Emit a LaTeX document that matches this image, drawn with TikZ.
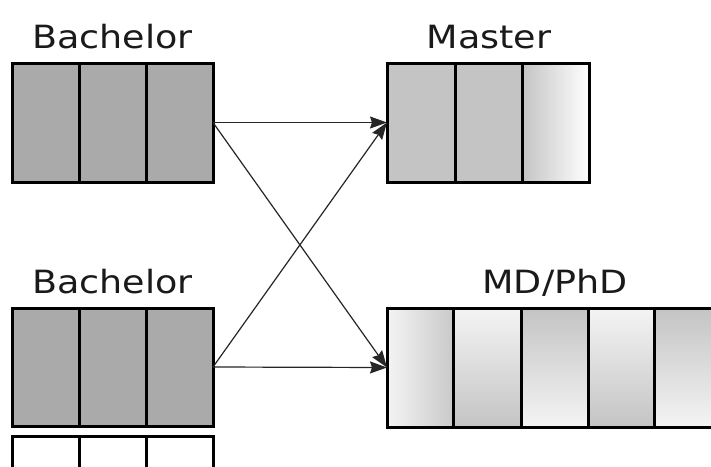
\documentclass[tikz,border=0pt]{standalone}
\usepackage{fontspec}
\setmainfont{DejaVu Sans}
\usetikzlibrary{arrows.meta}
\definecolor{bachgray}{HTML}{AAAAAA}
\definecolor{mastgray}{HTML}{C4C4C4}
\definecolor{lightg}{HTML}{F4F4F4}
\definecolor{txtc}{HTML}{1A1A1A}
\tikzset{
  cellline/.style={draw=black, line width=3pt},
  outerbox/.style={draw=black, line width=3pt, rectangle, inner sep=0pt, outer sep=0pt},
  lbl/.style={anchor=base, text=txtc, font=\fontsize{32}{38}\selectfont},
  conn/.style={line width=1.2pt, black!85, -{Stealth[length=17pt,width=12pt,inset=2pt]}}
}
\newcommand{\wide}[1]{\scalebox{1.14}[1]{#1}}
\begin{document}
\begin{tikzpicture}[x=1pt,y=-1pt]
\useasboundingbox (0,0) rectangle (711,466);
\fill[white] (0,0) rectangle (711,466);
\clip (0,0) rectangle (711,466);

% top Bachelor
\fill[bachgray] (12,63) rectangle (213,182);
\draw[cellline] (79,63) -- (79,182) (146,63) -- (146,182);
\node[outerbox, minimum width=201pt, minimum height=119pt] (bt) at (112.5,122.5) {};
\node[lbl] (btl) at (112.5,48) {\wide{Bachelor}};

% Master
\fill[mastgray] (387,63) rectangle (522,182);
\shade[left color=mastgray, right color=white] (522,63) rectangle (589,182);
\draw[cellline] (455,63) -- (455,182) (522,63) -- (522,182);
\node[outerbox, minimum width=202pt, minimum height=119pt] (ms) at (488,122.5) {};
\node[lbl] (msl) at (489,48) {\wide{Master}};

% bottom Bachelor
\fill[bachgray] (12,308) rectangle (213,426);
\draw[cellline] (79,308) -- (79,426) (146,308) -- (146,426);
\node[outerbox, minimum width=201pt, minimum height=118pt] (bb) at (112.5,367) {};
\node[lbl] (bbl) at (112.5,293) {\wide{Bachelor}};

% white boxes below
\draw[cellline] (12,490) -- (12,436) -- (213,436) -- (213,490);
\draw[cellline] (79,436) -- (79,490) (146,436) -- (146,490);

% MD/PhD
\shade[left color=lightg, right color=mastgray!90] (387,308) rectangle (453,427);
\shade[top color=lightg, bottom color=mastgray] (453,308) rectangle (521,427);
\shade[top color=mastgray, bottom color=lightg] (521,308) rectangle (588,427);
\shade[top color=lightg, bottom color=mastgray] (588,308) rectangle (654,427);
\shade[top color=mastgray, bottom color=lightg] (654,308) rectangle (721,427);
\draw[cellline] (453,308) -- (453,427) (521,308) -- (521,427) (588,308) -- (588,427) (654,308) -- (654,427);
\node[outerbox, minimum width=334pt, minimum height=119pt] (md) at (554,367.5) {};
\node[lbl] (mdl) at (555,293) {\wide{MD/PhD}};

% connectors
\draw[conn] (bt.east) -- (ms.west);
\draw[conn] (bt.east) -- (md.west);
\draw[conn] (bb.east) -- (ms.west);
\draw[conn] (bb.east) -- (md.west);
\end{tikzpicture}
\end{document}
